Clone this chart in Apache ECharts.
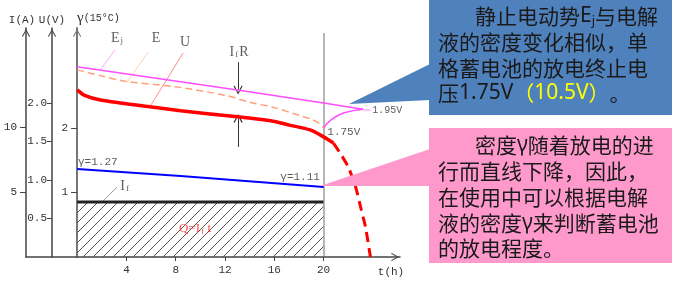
<!DOCTYPE html>
<html><head><meta charset="utf-8">
<script src="https://cdn.jsdelivr.net/npm/echarts@6/dist/echarts.min.js"></script>
<style>html,body{margin:0;padding:0;background:#fff}#c{width:687px;height:285px}</style>
</head><body><div id="c"></div>
<script>
// ---- tick labels ----
const tickT = [4, 8, 12, 16, 20];
const tickI = [5, 10];
const tickU = [0.5, 1.0, 1.5, 2.0];
const tickG = [1, 2];

// ---- series values (t in h) ----
const ejT = [0, 13, 20, 23.2];
const ejV = [2.47, 2.17, 2.0, 1.92];
const ejRecT = [20, 20.6, 21.6, 23.2];
const ejRecV = [1.675, 1.78, 1.87, 1.92];
const eT = [0, 2, 4, 8, 12, 14, 16, 18, 19, 19.6, 20];
const eV = [2.43, 2.35, 2.28, 2.21, 2.10, 2.01, 1.94, 1.84, 1.79, 1.74, 1.675];
const uT = [0, 0.6, 1.9, 5.9, 8.4, 12.4, 15.7, 17.3, 18.9, 20, 20.8];
const uV = [2.17, 2.10, 2.04, 1.95, 1.90, 1.83, 1.77, 1.71, 1.65, 1.56, 1.48];
const uEndT = [20.8, 21.3, 22, 22.6, 23.0, 23.4, 23.8];
const uEndV = [1.48, 1.36, 1.17, 0.91, 0.65, 0.39, 0];
const gammaT = [0, 8.4, 20];
const gammaV = [1.364, 1.256, 1.085];
const ifT = [0, 20];
const ifV = [4.23, 4.23];

// ---- annotation anchors (data units) ----
const stopLine = [[20, 0], [20, 2.91]];
const leaderEj = [[3.08, 2.69], [1.87, 2.43]];
const leaderE = [[5.76, 2.66], [4.06, 2.27]];
const leaderU = [[8.6, 2.65], [5.9, 1.95]];
const dash195 = [[23.2, 1.91], [23.8, 1.91]];
const arrowDown = [[13.06, 2.53], [13.06, 2.17]];
const arrowUp = [[13.06, 1.43], [13.06, 1.80]];
const leaderIf = [[2.03, 4.23], [3.24, 5.38]];

const pairs = (a, b) => a.map((t, i) => [t, b[i]]);

const mono = 'Liberation Mono';
const serif = 'Liberation Serif';
const cjk = 'Noto Sans CJK SC';
const arrowHead = 'path://M5,0L10,9L9,10L5,2.5L1,10L0,9Z';

// hatch pattern
const pc = document.createElement('canvas'); pc.width = 10; pc.height = 10;
const g = pc.getContext('2d'); g.strokeStyle = '#555'; g.lineWidth = 1;
g.beginPath(); g.moveTo(0, 10); g.lineTo(10, 0); g.moveTo(-1, 1); g.lineTo(1, -1); g.moveTo(9, 11); g.lineTo(11, 9); g.stroke();

function yAx(opt) {
  return Object.assign({
    type: 'value', position: 'left', min: 0,
    nameLocation: 'end', nameGap: 2,
    splitLine: { show: false },
    axisLine: { show: true, onZero: false, lineStyle: { color: '#444', width: 1.5 }, symbol: ['none', arrowHead], symbolSize: [8, 10], symbolOffset: [0, -5] },
  }, opt);
}

const option = {
  animation: false,
  textStyle: { fontFamily: mono },
  grid: { left: 26, right: 287, top: 28, bottom: 28, outerBoundsMode: 'none' },
  xAxis: {
    type: 'value', min: -4.15, max: 26.2, splitLine: { show: false },
    axisLine: { onZero: false, lineStyle: { color: '#444', width: 1.5 }, symbol: ['none', arrowHead], symbolSize: [8, 10], symbolOffset: [0, -5] },
    axisTick: { customValues: tickT, length: 4, lineStyle: { color: '#444' } },
    axisLabel: { customValues: tickT, fontSize: 11, color: '#333', margin: 8 }
  },
  yAxis: [
    yAx({ offset: 0, max: 17.615, name: 'I(A)', nameTextStyle: { fontSize: 11, color: '#333', padding: [0, 8, 0, 0] },
      axisTick: { show: true, customValues: tickI, length: 6, lineStyle: { color: '#444' } },
      axisLabel: { customValues: tickI, fontSize: 11, color: '#333', margin: 9 } }),
    yAx({ offset: -26, max: 2.974, name: 'U(V)', nameTextStyle: { fontSize: 11, color: '#333' },
      axisTick: { show: true, customValues: tickU, length: 5, lineStyle: { color: '#444' } },
      axisLabel: { customValues: tickU, fontSize: 11, color: '#333', margin: 5, formatter: v => v.toFixed(1) } }),
    yAx({ offset: -51.1, max: 3.55, name: '{g|γ}{s|(15°C)}',
      nameTextStyle: { align: 'left', color: '#333', rich: { g: { fontSize: 15, fontFamily: serif }, s: { fontSize: 10, fontFamily: mono } } },
      axisLine: { show: true, onZero: false, lineStyle: { color: '#777', width: 2 }, symbol: ['none', arrowHead], symbolSize: [8, 10], symbolOffset: [0, -5] },
      axisTick: { show: true, customValues: tickG, length: 6, lineStyle: { color: '#444' } },
      axisLabel: { customValues: tickG, fontSize: 11, color: '#333', margin: 9 } })
  ],
  series: [
    { type: 'line', yAxisIndex: 0, data: pairs(ifT, ifV), symbol: 'none', z: 1,
      lineStyle: { color: '#222', width: 3 }, areaStyle: { color: { image: pc, repeat: 'repeat' }, opacity: 1 } },
    { type: 'lines', coordinateSystem: 'cartesian2d', yAxisIndex: 1, z: 2,
      data: [
        { coords: stopLine, lineStyle: { color: '#707070', width: 2 } },
        { coords: leaderEj, lineStyle: { color: '#ff4dff', width: 1 } },
        { coords: leaderE, lineStyle: { color: '#ffa07a', width: 1 } },
        { coords: leaderU, lineStyle: { color: '#ff2020', width: 1 } },
        { coords: dash195, lineStyle: { color: '#ff4dff', width: 1.5 } }
      ] },
    { type: 'lines', coordinateSystem: 'cartesian2d', yAxisIndex: 0, z: 2,
      data: [{ coords: leaderIf, lineStyle: { color: '#333', width: 1 } }] },
    { type: 'lines', coordinateSystem: 'cartesian2d', yAxisIndex: 1, z: 3,
      symbol: ['none', arrowHead], symbolSize: [8, 9],
      lineStyle: { color: '#333', width: 1, opacity: 1 },
      data: [{ coords: arrowDown }, { coords: arrowUp }] },
    { type: 'line', yAxisIndex: 2, data: pairs(gammaT, gammaV), symbol: 'none', lineStyle: { color: '#0000ff', width: 2 } },
    { type: 'line', yAxisIndex: 1, data: pairs(ejT, ejV), symbol: 'none', lineStyle: { color: '#ff4dff', width: 1.5 } },
    { type: 'line', yAxisIndex: 1, data: pairs(ejRecT, ejRecV), symbol: 'none', smooth: 0.4, lineStyle: { color: '#ff4dff', width: 1.5 } },
    { type: 'line', yAxisIndex: 1, data: pairs(eT, eV), symbol: 'none', smooth: 0.3, lineStyle: { color: '#ffa07a', width: 1.5, type: [7, 4] } },
    { type: 'line', yAxisIndex: 1, data: pairs(uT, uV), symbol: 'none', smooth: 0.3, lineStyle: { color: '#ff0000', width: 3.5 } },
    { type: 'line', yAxisIndex: 1, data: pairs(uEndT, uEndV), symbol: 'none', smooth: 0.2, lineStyle: { color: '#ff0000', width: 3, type: [10, 6] } },
    { type: 'scatter', yAxisIndex: 1, symbolSize: 0, z: 5, silent: true,
      label: { show: true, position: 'inside', color: '#333', fontFamily: serif, fontSize: 14 },
      data: [
        { value: [3.24, 2.84], label: { formatter: '{a|E}{b|j}', rich: { a: { fontSize: 14, fontFamily: serif, color: '#333' }, b: { fontSize: 9, fontFamily: serif, color: '#333', padding: [4, 0, 0, 1] } } } },
        { value: [6.4, 2.84], label: { formatter: 'E' } },
        { value: [8.76, 2.79], label: { formatter: 'U' } },
        { value: [13.14, 2.66], label: { formatter: '{a|I}{b|f}{a|R}', rich: { a: { fontSize: 14, fontFamily: serif, color: '#333' }, b: { fontSize: 9, fontFamily: serif, color: '#333', padding: [5, 1, 0, 1] } } } },
        { value: [20.3, 1.62], label: { position: 'right', distance: 0, formatter: '1.75V', fontFamily: mono, fontSize: 11 } },
        { value: [23.95, 1.90], label: { position: 'right', distance: 0, formatter: '1.95V', fontFamily: mono, fontSize: 10 } }
      ] },
    { type: 'scatter', yAxisIndex: 2, symbolSize: 0, z: 5, silent: true,
      label: { show: true, color: '#333', fontFamily: mono, fontSize: 11, distance: 0 },
      data: [
        { value: [0.07, 1.47], label: { position: 'right', formatter: 'γ=1.27' } },
        { value: [19.7, 1.24], label: { position: 'left', formatter: 'γ=1.11' } }
      ] },
    { type: 'scatter', yAxisIndex: 0, symbolSize: 0, z: 5, silent: true,
      label: { show: true, color: '#333', fontFamily: serif, fontSize: 14 },
      data: [
        { value: [3.5, 5.46], label: { position: 'right', distance: 0, formatter: '{a|I}{b|f}', rich: { a: { fontSize: 14, fontFamily: serif, color: '#333' }, b: { fontSize: 9, fontFamily: serif, color: '#333', padding: [5, 0, 0, 1] } } } },
        { value: [9.57, 2.15], label: { position: 'inside', formatter: '{a|Q=I}{b|f}{a| t}', rich: { a: { fontSize: 13, fontFamily: serif, color: '#ff2020' }, b: { fontSize: 9, fontFamily: serif, color: '#ff2020', padding: [5, 0, 0, 1] } } } }
      ] }
  ],
  graphic: [
    { type: 'text', x: 391, y: 272, z: 50, style: { text: 't(h)', fontFamily: mono, fontSize: 11, fill: '#333', align: 'center', verticalAlign: 'middle' } },
    { type: 'polygon', z: 100, shape: { points: [[349, 104], [430, 64], [430, 100]] }, style: { fill: '#4F81BD' } },
    { type: 'rect', z: 100, shape: { x: 429, y: 0, width: 243, height: 115 }, style: { fill: '#4F81BD' } },
    { type: 'polygon', z: 100, shape: { points: [[320, 186], [430, 149], [430, 186]] }, style: { fill: '#FF99CC' } },
    { type: 'rect', z: 100, shape: { x: 429, y: 128, width: 243, height: 135 }, style: { fill: '#FF99CC' } }
  ]
};

const richBox = {
  l: { fontFamily: 'Noto Sans', fontSize: 21, fill: '#1a1a1a' },
  sub: { fontFamily: 'Noto Sans', fontSize: 13, fill: '#1a1a1a', padding: [10, 0, 0, 0] },
  y: { fontFamily: cjk, fontSize: 21, fill: '#FFFF00' },
  yl: { fontFamily: 'Noto Sans', fontSize: 21, fill: '#FFFF00' },
  g: { fontFamily: 'Noto Sans', fontSize: 21, fill: '#1a1a1a' }
};
const boxLines = [
  ['静止电动势{l|E}{sub|j}与电解', 475, 16.5],
  ['液的密度变化相似，单', 438, 42],
  ['格蓄电池的放电终止电', 438, 68],
  ['压{l|1.75V}{y|（}{yl|10.5V}{y|）}。', 438, 93.5],
  ['密度{g|γ}随着放电的进', 475, 145],
  ['行而直线下降，因此，', 438, 171.5],
  ['在使用中可以根据电解', 438, 197],
  ['液的密度{g|γ}来判断蓄电池', 438, 223],
  ['的放电程度。', 438, 248.5]
];
boxLines.forEach(([txt, x, y]) => {
  option.graphic.push({ type: 'text', x, y, z: 101,
    style: { text: txt, fontFamily: cjk, fontSize: 21, fill: '#1a1a1a', align: 'left', verticalAlign: 'middle', rich: richBox } });
});

const chart = echarts.init(document.getElementById('c'), null, { renderer: 'canvas' });
chart.setOption(option);
</script></body></html>
